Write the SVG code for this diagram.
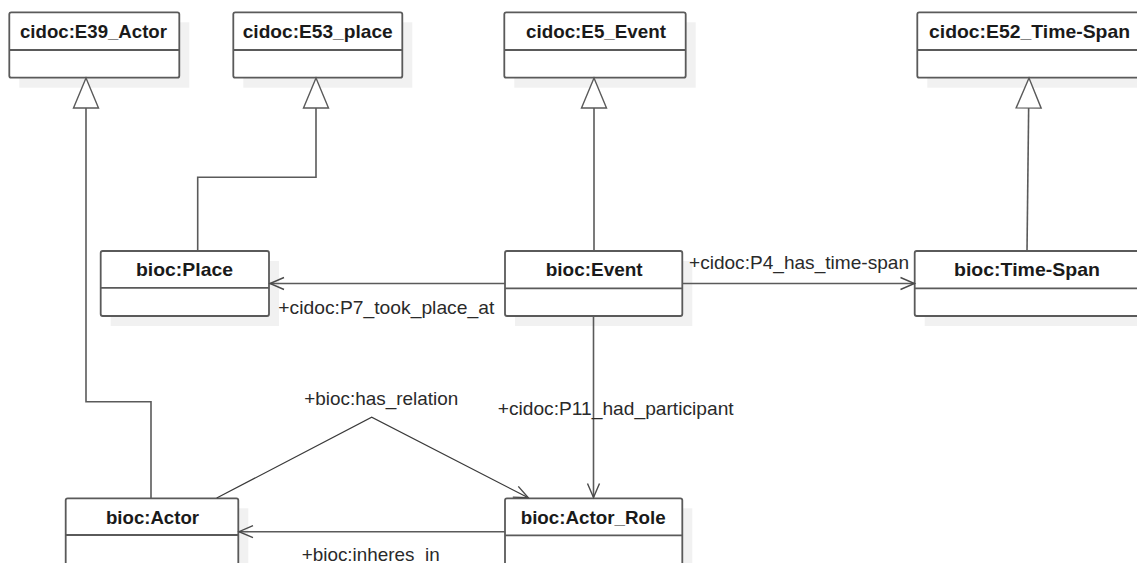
<svg xmlns="http://www.w3.org/2000/svg" width="1137" height="563" viewBox="0 0 1137 563">
<style>
  .box { fill: #ffffff; stroke: #5a5a5a; stroke-width: 1.8; }
  .shadow { fill: #f1f1f1; stroke: none; }
  .div { stroke: #5a5a5a; stroke-width: 1.8; }
  .title { font-family: "Liberation Sans", Arial, sans-serif; font-size: 18.5px; font-weight: bold; fill: #1a1a1a; }
  .label { font-family: "Liberation Sans", Arial, sans-serif; font-size: 19px; fill: #2a2a2a; }
  .gen { fill: none; stroke: #5a5a5a; stroke-width: 1.6; marker-end: url(#tri); }
  .assoc { fill: none; stroke: #5a5a5a; stroke-width: 1.6; }
  .assoc-thin { fill: none; stroke: #3a3a3a; stroke-width: 1.2; }
  .head { fill: none; stroke: #4a4a4a; stroke-width: 1.4; }
</style>
<defs>
  <marker id="tri" markerUnits="userSpaceOnUse" viewBox="-1 -1 32 27" markerWidth="32" markerHeight="27" refX="30" refY="12.5" orient="auto" overflow="visible">
    <path d="M0,0 L30,12.5 L0,25 Z" fill="#ffffff" stroke="#5a5a5a" stroke-width="1.4"/>
  </marker>
</defs>

<g id="E39_Actor">
  <rect class="shadow" x="19.3" y="22.3" width="170" height="65.4"/>
  <rect class="box" x="9.3" y="12.3" width="170" height="65.4" rx="2"/>
  <line class="div" x1="9.3" y1="50" x2="179.3" y2="50"/>
  <text class="title" x="20" y="37.8" textLength="147" lengthAdjust="spacingAndGlyphs">cidoc:E39_Actor</text>
</g>
<g id="E53_place">
  <rect class="shadow" x="243.3" y="22.3" width="169" height="65.4"/>
  <rect class="box" x="233.3" y="12.3" width="169" height="65.4" rx="2"/>
  <line class="div" x1="233.3" y1="50" x2="402.3" y2="50"/>
  <text class="title" x="242.7" y="37.8" textLength="150" lengthAdjust="spacingAndGlyphs">cidoc:E53_place</text>
</g>
<g id="E5_Event">
  <rect class="shadow" x="514.3" y="22.3" width="181.4" height="65.4"/>
  <rect class="box" x="504.3" y="12.3" width="181.4" height="65.4" rx="2"/>
  <line class="div" x1="504.3" y1="50" x2="685.7" y2="50"/>
  <text class="title" x="526" y="37.8" textLength="140" lengthAdjust="spacingAndGlyphs">cidoc:E5_Event</text>
</g>
<g id="E52_Time-Span">
  <rect class="shadow" x="927.3" y="22.3" width="224" height="65.4"/>
  <rect class="box" x="917.3" y="12.3" width="224" height="65.4" rx="2"/>
  <line class="div" x1="917.3" y1="50" x2="1141.3" y2="50"/>
  <text class="title" x="929" y="37.8" textLength="201" lengthAdjust="spacingAndGlyphs">cidoc:E52_Time-Span</text>
</g>
<g id="bioc_Place">
  <rect class="shadow" x="110.7" y="261" width="168.3" height="65"/>
  <rect class="box" x="100.7" y="251" width="168.3" height="65" rx="2"/>
  <line class="div" x1="100.7" y1="287.8" x2="269" y2="287.8"/>
  <text class="title" x="136" y="276" textLength="97" lengthAdjust="spacingAndGlyphs">bioc:Place</text>
</g>
<g id="bioc_Event">
  <rect class="shadow" x="515" y="261" width="177.3" height="65"/>
  <rect class="box" x="505" y="251" width="177.3" height="65" rx="2"/>
  <line class="div" x1="505" y1="288.3" x2="682.3" y2="288.3"/>
  <text class="title" x="545.7" y="276" textLength="97" lengthAdjust="spacingAndGlyphs">bioc:Event</text>
</g>
<g id="bioc_Time-Span">
  <rect class="shadow" x="924.7" y="261" width="225" height="65"/>
  <rect class="box" x="914.7" y="251" width="225" height="65" rx="2"/>
  <line class="div" x1="914.7" y1="288.3" x2="1139.7" y2="288.3"/>
  <text class="title" x="954" y="276" textLength="146" lengthAdjust="spacingAndGlyphs">bioc:Time-Span</text>
</g>
<g id="bioc_Actor">
  <rect class="shadow" x="75.7" y="508.3" width="172.6" height="70"/>
  <rect class="box" x="65.7" y="498.3" width="172.6" height="70" rx="2"/>
  <line class="div" x1="65.7" y1="535" x2="238.3" y2="535"/>
  <text class="title" x="106" y="524" textLength="93" lengthAdjust="spacingAndGlyphs">bioc:Actor</text>
</g>
<g id="bioc_Actor_Role">
  <rect class="shadow" x="515" y="508.3" width="177.3" height="70"/>
  <rect class="box" x="505" y="498.3" width="177.3" height="70" rx="2"/>
  <line class="div" x1="505" y1="535.3" x2="682.3" y2="535.3"/>
  <text class="title" x="520.7" y="524" textLength="145" lengthAdjust="spacingAndGlyphs">bioc:Actor_Role</text>
</g>

<g id="connectors">
  <path class="gen" d="M151,498 V401.7 H86 V78"/>
  <path class="gen" d="M197.7,251 V177.3 H316 V78"/>
  <path class="gen" d="M594,251 V78"/>
  <path class="gen" d="M1027,251 L1029,78"/>
  <path class="assoc" d="M505,283.5 H269.5"/>
  <path class="head" d="M284,277.5 L270,283.5 L284,289.5"/>
  <path class="assoc" d="M682.3,283.5 H914.5"/>
  <path class="head" d="M900.5,277.5 L914.5,283.5 L900.5,289.5"/>
  <path class="assoc" d="M593.5,316 V497.5"/>
  <path class="head" d="M587.5,483.5 L593.5,497.5 L599.5,483.5"/>
  <path class="assoc-thin" d="M216.7,498 L371.7,417.3 L528.3,497.8"/>
  <path class="head" d="M518.3,486.4 L528.3,497.8 L512.8,497.1"/>
  <path class="assoc" d="M505,531.7 H238.8"/>
  <path class="head" d="M253,525.7 L239,531.7 L253,537.7"/>
  <text class="label" x="278.3" y="314" textLength="216" lengthAdjust="spacingAndGlyphs">+cidoc:P7_took_place_at</text>
  <text class="label" x="689" y="268.5" textLength="220" lengthAdjust="spacingAndGlyphs">+cidoc:P4_has_time-span</text>
  <text class="label" x="304.3" y="405" textLength="154" lengthAdjust="spacingAndGlyphs">+bioc:has_relation</text>
  <text class="label" x="497.7" y="414.7" textLength="236" lengthAdjust="spacingAndGlyphs">+cidoc:P11_had_participant</text>
  <text class="label" x="301.7" y="561" textLength="138" lengthAdjust="spacingAndGlyphs">+bioc:inheres_in</text>
</g>
</svg>
